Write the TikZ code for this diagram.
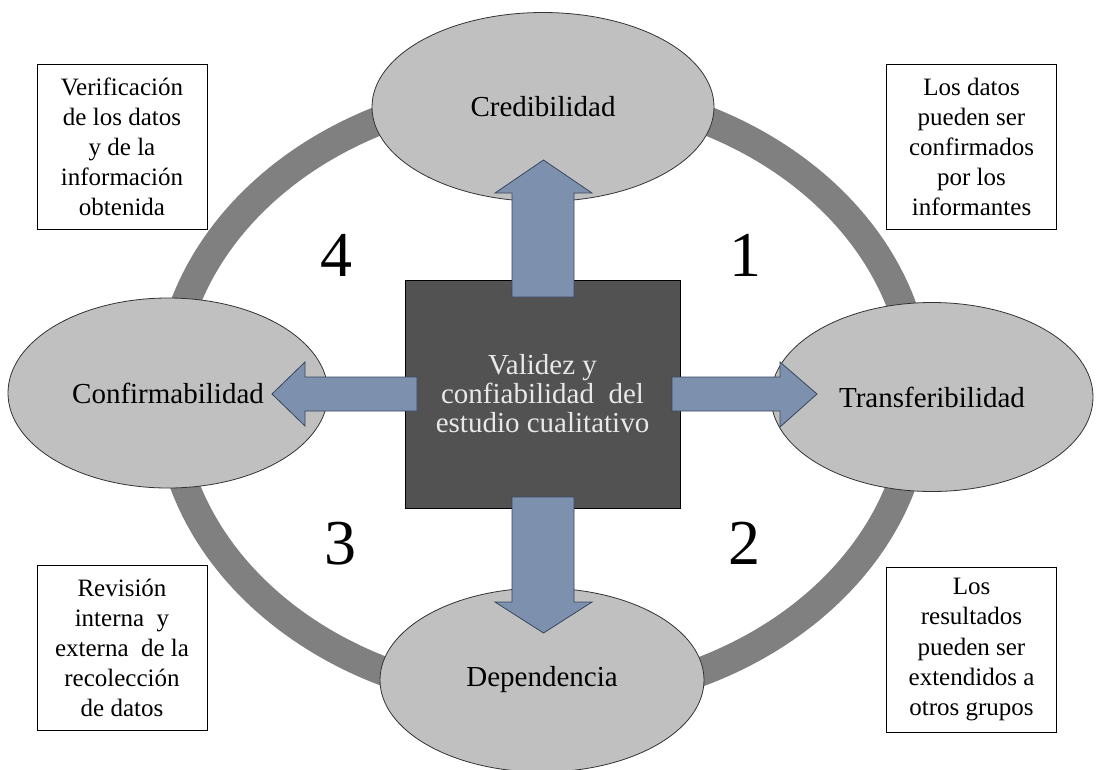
\documentclass[tikz,border=0pt]{standalone}
\usepackage{fontspec}
\setmainfont{Liberation Serif}
\usetikzlibrary{shapes.geometric}
\definecolor{ringgray}{RGB}{128,128,128}
\definecolor{ellfill}{RGB}{192,192,192}
\definecolor{sqfill}{RGB}{82,82,82}
\definecolor{arrfill}{RGB}{125,145,175}
\definecolor{arrline}{RGB}{55,70,95}
\definecolor{sqtext}{RGB}{232,232,232}
\tikzset{
  x=1pt, y=-1pt,
  ell/.style={ellipse, draw=black!80, line width=0.8pt, fill=ellfill, inner sep=0pt,
    font=\fontsize{29}{30}\selectfont},
  infobox/.style={draw=black, line width=1pt, fill=white, minimum width=170pt, minimum height=165pt,
    inner sep=0pt, align=center, font=\fontsize{25}{30}\selectfont},
  num/.style={font=\fontsize{64}{64}\selectfont, inner sep=0pt},
  blockarrow/.style={fill=arrfill, draw=arrline, line width=0.8pt, line join=miter},
}
\begin{document}
\begin{tikzpicture}
\useasboundingbox (0,0) rectangle (1097,769);
% ring
\draw[ringgray, line width=29pt] (543,395) ellipse [x radius=375pt, y radius=305pt];
% ellipses
\node[ell, minimum width=342pt, minimum height=189pt] (cred) at (543,107) {Credibilidad};
\node[ell, minimum width=320pt, minimum height=190pt] (conf) at (168,393) {Confirmabilidad};
\node[ell, minimum width=322pt, minimum height=189pt] (trans) at (932,397) {Transferibilidad};
\node[ell, minimum width=324pt, minimum height=184pt] (dep) at (542,680) {Dependencia};
% center square
\node[draw=black, line width=0.8pt, fill=sqfill, minimum width=275pt, minimum height=228pt,
  inner sep=0pt, align=center, text=sqtext, font=\fontsize{29}{29}\selectfont] (sq) at (542.5,394)
  {Validez y\\confiabilidad\ \ del\\estudio cualitativo};
% block arrows
\draw[blockarrow] (512,297) -- (512,193) -- (495,193) -- (543.5,160) -- (592,193) -- (574,193) -- (574,297) -- cycle;
\draw[blockarrow] (512,497) -- (512,602) -- (495,602) -- (543.5,633) -- (592,602) -- (574,602) -- (574,497) -- cycle;
\draw[blockarrow] (417,377) -- (305,377) -- (305,362) -- (272,394) -- (305,426) -- (305,411) -- (417,411) -- cycle;
\draw[blockarrow] (672,377) -- (780,377) -- (780,362) -- (817,394) -- (780,427) -- (780,411) -- (672,411) -- cycle;
% numbers
\node[num] (n4) at (336,255) {4};
\node[num] (n1) at (745,255) {1};
\node[num] (n3) at (340,544) {3};
\node[num] (n2) at (744,543) {2};
% info boxes
\node[infobox] (tl) at (122,146.5) {Verificación\\de los datos\\y de la\\información\\obtenida};
\node[infobox] (tr) at (971.5,146.5) {Los datos\\pueden ser\\confirmados\\por los\\informantes};
\node[infobox] (bl) at (122,648) {Revisión\\interna\ \ y\\externa\ \ de la\\recolección\\de datos};
\node[infobox] (br) at (971.5,649.5) {Los\\resultados\\pueden ser\\extendidos a\\otros grupos};
\end{tikzpicture}
\end{document}
